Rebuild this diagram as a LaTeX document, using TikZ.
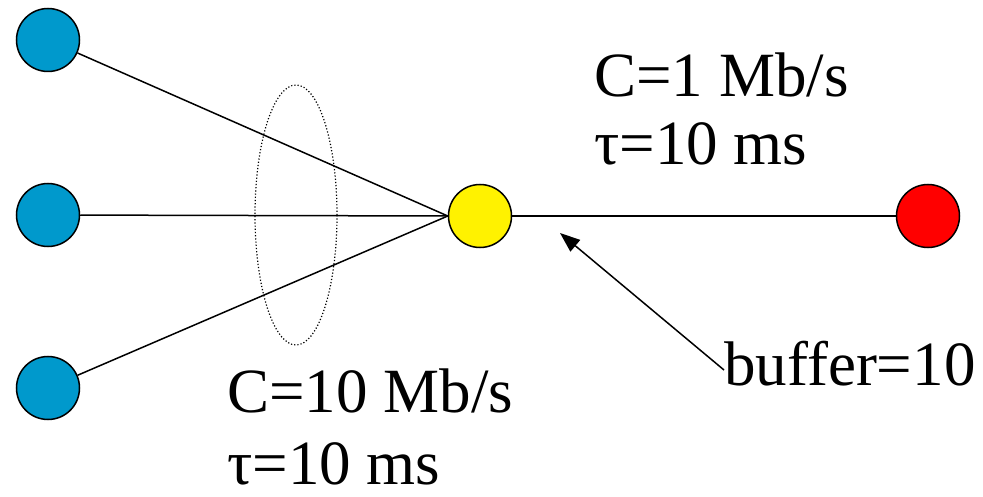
\documentclass[tikz,border=0pt]{standalone}
\usepackage{fontspec}
\setmainfont{Liberation Serif}
\usetikzlibrary{arrows.meta,shapes.geometric}
\definecolor{nblue}{RGB}{0,153,204}
\begin{document}
\begin{tikzpicture}[x=1pt,y=-1pt,
  hostnode/.style={circle,draw=black,line width=1.5pt,minimum size=63pt,inner sep=0pt},
  link/.style={line width=1.5pt},
  lbl/.style={anchor=base west,inner sep=0pt,font=\fontsize{63}{70}\selectfont}]
\useasboundingbox (0,0) rectangle (983,497);
\node[hostnode,fill=nblue] (b1) at (48,40) {};
\node[hostnode,fill=nblue] (b2) at (48,215) {};
\node[hostnode,fill=nblue] (b3) at (48,388) {};
\node[hostnode,fill=yellow] (r) at (480,216) {};
\node[hostnode,fill=red] (d) at (928,216) {};
\draw[link] (b1) -- (r.west);
\draw[link] (b2) -- (r.west);
\draw[link] (b3) -- (r.west);
\draw[link] (r) -- (d);
\node[draw,dotted,line width=1.2pt,ellipse,minimum width=82pt,minimum height=260pt,inner sep=0pt] (e) at (296,215) {};
\node[lbl] (c1) at (594,97) {C=1 Mb/s};
\node[lbl] (t1) at (594,165) {τ=10 ms};
\node[lbl] (c2) at (227,412) {C=10 Mb/s};
\node[lbl,text depth=0pt] (t2) at (227,484) {τ=10 ms};
\node[lbl] (buf) at (724,385) {buffer=10};
\coordinate (tip) at (560,233);
\draw[link,-{Triangle[length=20pt,width=15pt]}] (buf.west |- 0,370) -- (tip);
\end{tikzpicture}
\end{document}
